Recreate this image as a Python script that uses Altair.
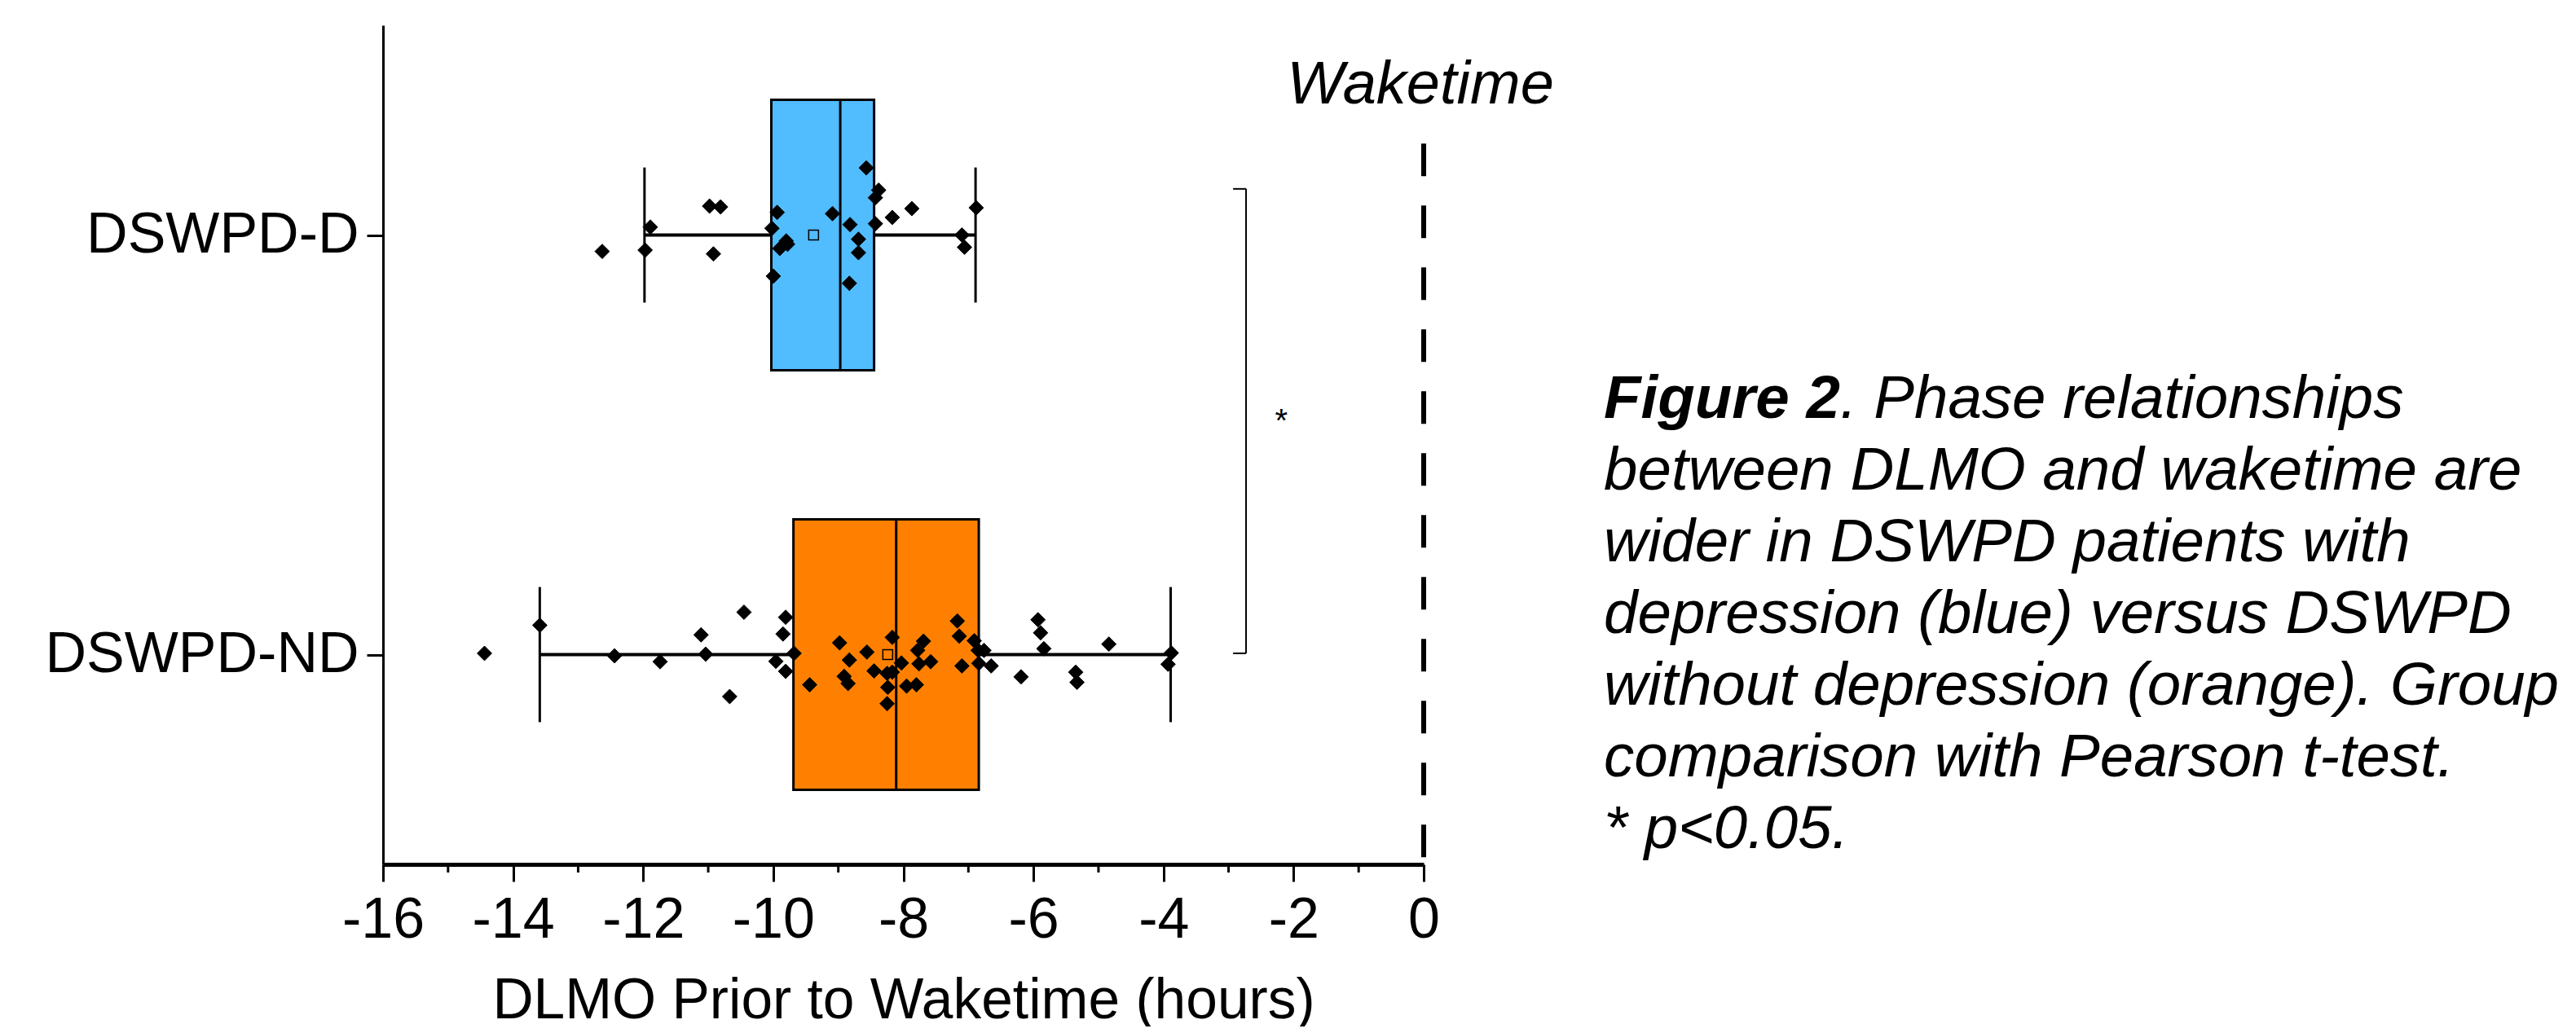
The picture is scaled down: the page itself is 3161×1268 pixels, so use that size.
import altair as alt
import pandas as pd

FONT = "Liberation Sans"

# ---------------- data ----------------
groups = ["DSWPD-D", "DSWPD-ND"]
colors = ["#51BCFE", "#FF8000"]

q1 = [-10.03, -9.69]
median = [-8.97, -8.11]
q3 = [-8.45, -6.84]
whisk_lo = [-11.98, -13.59]
whisk_hi = [-6.89, -3.89]
mean = [-9.38, -8.24]

d_values = [-12.63, -11.97, -11.89, -10.98, -10.81, -10.92, -9.94, -10.02, -9.80,
            -9.90, -9.78, -10.00, -9.09, -8.82, -8.69, -8.69, -8.83, -8.57, -8.38,
            -8.43, -8.43, -8.17, -7.87, -7.10, -7.06, -6.88]
d_jitter = [-0.039, -0.036, 0.019, 0.069, 0.067, -0.045, 0.054, 0.016, -0.014,
            -0.032, -0.022, -0.098, 0.051, 0.025, -0.010, -0.042, -0.115, 0.160, 0.107,
            0.089, 0.027, 0.042, 0.063, 0.000, -0.029, 0.065]

nd_values = [-14.44, -13.59, -12.44, -11.74, -11.11, -11.04, -10.67, -10.45, -9.81,
             -9.85, -9.96, -9.81, -9.68, -9.44, -8.98, -8.83, -8.91, -8.85, -8.56,
             -8.45, -8.25, -8.17, -8.17, -8.24, -8.25, -8.03, -7.95, -7.80, -7.78,
             -7.69, -7.76, -7.58, -7.17, -7.14, -7.10, -6.91, -6.85, -6.76, -6.84,
             -6.65, -6.19, -5.93, -5.89, -5.84, -5.35, -5.33, -4.84, -3.88, -3.93]
nd_jitter = [0.003, 0.070, -0.003, -0.017, 0.047, 0.001, -0.100, 0.101, 0.089,
             0.049, -0.016, -0.040, 0.003, -0.072, 0.028, -0.013, -0.052, -0.069, 0.006,
             -0.039, -0.045, -0.042, 0.041, -0.078, -0.117, -0.020, -0.075, -0.072, 0.010,
             0.032, -0.022, -0.017, 0.080, 0.044, -0.027, 0.033, 0.010, 0.010, -0.021,
             -0.027, -0.053, 0.083, 0.052, 0.014, -0.042, -0.066, 0.025, 0.004, -0.023]

x_ticks = list(range(-16, 1, 2))
x_minor = list(range(-15, 0, 2))
x_title = "DLMO Prior to Waketime (hours)"

caption_lines = [
    "between DLMO and waketime are",
    "wider in DSWPD patients with",
    "depression (blue) versus DSWPD",
    "without depression (orange). Group",
    "comparison with Pearson t-test.",
    "* p<0.05.",
]
caption_bold = "Figure 2"
caption_first_rest = ". Phase relationships"

# ---------------- layout constants ----------------
W, H = 1277, 1030
BOX_HALF = 0.3225
CAP_HALF = 0.161
pos = [len(groups) - i - 0.5 for i in range(len(groups))]

stats = pd.DataFrame({
    "group": groups, "pos": pos, "q1": q1, "median": median, "q3": q3,
    "lo": whisk_lo, "hi": whisk_hi, "mean": mean,
})
stats["box_lo"] = stats["pos"] - BOX_HALF
stats["box_hi"] = stats["pos"] + BOX_HALF
stats["cap_lo"] = stats["pos"] - CAP_HALF
stats["cap_hi"] = stats["pos"] + CAP_HALF

pts = pd.concat([
    pd.DataFrame({"group": groups[0], "value": d_values, "y": [pos[0] + j for j in d_jitter]}),
    pd.DataFrame({"group": groups[1], "value": nd_values, "y": [pos[1] + j for j in nd_jitter]}),
])

x_scale = alt.Scale(domain=[-16, 0], nice=False, zero=False)
y_scale = alt.Scale(domain=[0, 2], nice=False, zero=False)
color_scale = alt.Scale(domain=groups, range=colors)

x_axis = alt.Axis(values=x_ticks, labelExpr="'' + datum.value", tickSize=21, tickWidth=3,
                  domainWidth=5, domainColor="black", tickColor="black", grid=False,
                  labelFontSize=70, labelFont=FONT, labelColor="black", labelPadding=13,
                  title=x_title, titleFontSize=69.5, titleFont=FONT, titleFontWeight="normal",
                  titleColor="black", titlePadding=30, labelFlush=False, labelOverlap=False,
                  labelLimit=0)
label_expr = f"datum.value > 1 ? '{groups[0]}' : '{groups[1]}'"
y_axis = alt.Axis(values=pos, labelExpr=label_expr, tickSize=20, tickWidth=3,
                  domainWidth=3, domainColor="black", tickColor="black", grid=False,
                  labelFontSize=70, labelFont=FONT, labelColor="black", labelPadding=10,
                  title=None, labelFlush=False, labelOverlap=False, labelLimit=0)


def X(field):
    return alt.X(field, type="quantitative", scale=x_scale, axis=x_axis)


def Y(field):
    return alt.Y(field, type="quantitative", scale=y_scale, axis=y_axis)


base = alt.Chart(stats)

whisker = base.mark_rule(color="black", strokeWidth=4).encode(x=X("lo"), x2="hi", y=Y("pos"))
cap_lo = base.mark_rule(color="black", strokeWidth=3).encode(x=X("lo"), y=Y("cap_lo"), y2="cap_hi")
cap_hi = base.mark_rule(color="black", strokeWidth=3).encode(x=X("hi"), y=Y("cap_lo"), y2="cap_hi")
box = base.mark_rect(stroke="black", strokeWidth=3, opacity=1).encode(
    x=X("q1"), x2="q3", y=Y("box_lo"), y2="box_hi",
    fill=alt.Fill("group:N", scale=color_scale, legend=None))
med = base.mark_rule(color="black", strokeWidth=3).encode(x=X("median"), y=Y("box_lo"), y2="box_hi")
mean_pt = base.mark_point(shape="square", size=144, stroke="black", strokeWidth=1.5,
                          opacity=1, fillOpacity=1).encode(
    x=X("mean"), y=Y("pos"), fill=alt.Fill("group:N", scale=color_scale, legend=None))

points = alt.Chart(pts).mark_point(shape="diamond", size=320, filled=True, color="black",
                                   opacity=1, stroke="black", strokeWidth=1).encode(
    x=X("value"), y=Y("y"))

# minor ticks on the x axis
minor = alt.Chart(pd.DataFrame({"x": x_minor})).mark_rule(color="black", strokeWidth=3).encode(
    x=X("x"), y=alt.Y("y0:Q", scale=y_scale, axis=y_axis), y2="y1"
).transform_calculate(y0="0", y1=str(-10 / 515))

# waketime dashed line and label
wake = pd.DataFrame({"x": [0.0], "top": [1.718], "bottom": [0.0], "label_y": [1.814],
                     "label": ["Waketime"]})
wake_line = alt.Chart(wake).mark_rule(color="black", strokeWidth=6, strokeDash=[40, 36]).encode(
    x=X("x"), y=Y("top"), y2="bottom")
wake_text = alt.Chart(wake).mark_text(font=FONT, fontSize=74, fontStyle="italic", align="center",
                                      baseline="alphabetic", dx=-4, color="black").encode(
    x=X("x"), y=Y("label_y"), text="label")

# significance bracket
br = pd.DataFrame({"x": [-2.731], "xl": [-2.93], "top": [1.610], "bottom": [0.503]})
br_v = alt.Chart(br).mark_rule(color="black", strokeWidth=2).encode(x=X("x"), y=Y("top"), y2="bottom")
br_t = alt.Chart(br).mark_rule(color="black", strokeWidth=2).encode(x=X("xl"), x2="x", y=Y("top"))
br_b = alt.Chart(br).mark_rule(color="black", strokeWidth=2).encode(x=X("xl"), x2="x", y=Y("bottom"))
star = alt.Chart(pd.DataFrame({"x": [-2.19], "y": [1.055], "t": ["*"]})).mark_text(
    font=FONT, fontSize=40, baseline="middle", align="center", color="black").encode(
    x=X("x"), y=Y("y"), text="t")

# caption
CAP_X = 2.77
CAP_TOP = 2 - 482 / 515
CAP_STEP = 88 / 515
CAP_SIZE = 74.5
cap_df = pd.DataFrame({"t": caption_lines, "x": CAP_X,
                       "y": [CAP_TOP - (i + 1) * CAP_STEP for i in range(len(caption_lines))]})
cap_text = alt.Chart(cap_df).mark_text(font=FONT, fontSize=CAP_SIZE, fontStyle="italic", align="left",
                                       baseline="alphabetic", color="black").encode(
    x=X("x"), y=Y("y"), text="t")
first = pd.DataFrame({"x": [CAP_X], "y": [CAP_TOP], "b": [caption_bold], "r": [caption_first_rest]})
cap_bold = alt.Chart(first).mark_text(font=FONT, fontSize=CAP_SIZE, fontStyle="italic", fontWeight="bold",
                                      align="left", baseline="alphabetic", color="black").encode(
    x=X("x"), y=Y("y"), text="b")
cap_rest = alt.Chart(first).mark_text(font=FONT, fontSize=CAP_SIZE, fontStyle="italic", align="left",
                                      baseline="alphabetic", dx=3.89 * CAP_SIZE, color="black").encode(
    x=X("x"), y=Y("y"), text="r")

chart = alt.layer(
    whisker, cap_lo, cap_hi, box, med, mean_pt, points, minor,
    wake_line, wake_text, br_v, br_t, br_b, star, cap_text, cap_bold, cap_rest
).properties(
    width=W, height=H,
    autosize=alt.AutoSizeParams(type="none"),
    padding={"left": 462, "top": 23, "right": 1406, "bottom": 199},
    background="white",
).configure_view(strokeWidth=0)

chart.save("out.html", embed_options={"renderer": "svg", "actions": False})
